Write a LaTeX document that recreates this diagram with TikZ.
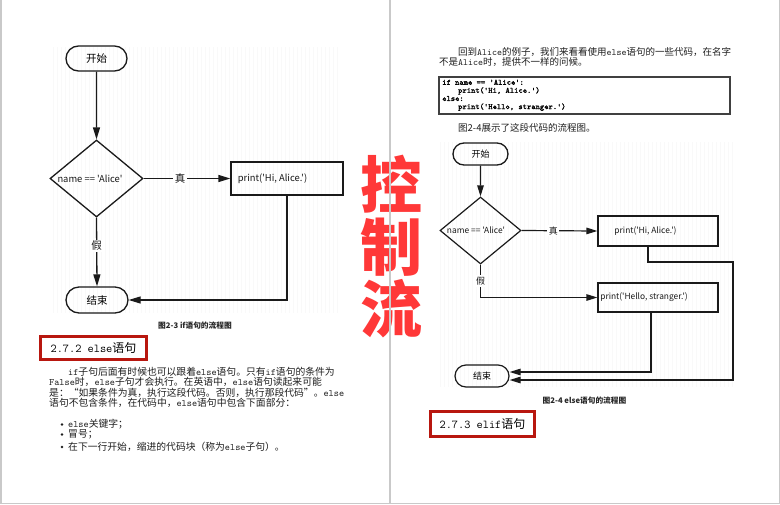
\documentclass[tikz,border=0pt]{standalone}
\usepackage{fontspec}
\setmainfont{Noto Sans CJK SC}
\newfontfamily\fcf{Noto Sans CJK SC}
\newfontfamily\codef[FakeBold=1.5]{Latin Modern Mono}
\usetikzlibrary{shapes.geometric,shapes.misc,arrows.meta,calc}
\definecolor{ink}{HTML}{1A1A1A}
\definecolor{bodyink}{HTML}{1E1E1E}
\definecolor{hred}{HTML}{B8170F}
\definecolor{bigred}{HTML}{FF3838}
\definecolor{pagegray}{HTML}{C9C9C9}
\newcommand\lw[1]{{\ttfamily #1}}
\newcommand\fsz[1]{\fontsize{#1}{#1}\selectfont}
\tikzset{
  term/.style={draw=ink, rounded rectangle, line width=1.3pt, inner sep=0pt},
  dia/.style={draw=ink, diamond, line width=1.3pt, inner sep=0pt},
  procbox/.style={draw=ink, rectangle, line width=1.3pt, inner sep=0pt},
  conn/.style={draw=ink, line width=1.3pt},
  larrow/.style={-{Triangle[length=12pt,width=7pt]}},
  rarrow/.style={-{Triangle[length=11pt,width=6.5pt]}},
  lab/.style={fill=white, inner sep=1.5pt, text=ink},
  txt/.style={inner sep=0pt, anchor=west, text=bodyink},
  heading/.style={draw=hred, line width=3.3pt, fill=white, inner sep=0pt, text=black},
  caption/.style={inner sep=0pt, text=black!85, font=\fsz{7.7}\bfseries},
  bul/.style={circle, fill=bodyink, inner sep=0pt, minimum size=2.8pt}
}
\begin{document}
\begin{tikzpicture}[x=1pt,y=-1pt]
\useasboundingbox (0,0) rectangle (780,504);
\fill[white] (0,0) rectangle (780,504);
% faint chart backgrounds
\foreach \x in {53,57,...,340} \draw[black!2.5, line width=0.5pt] (\x,47) -- (\x,313);
\foreach \x in {440,444,...,732} \draw[black!2.5, line width=0.5pt] (\x,142) -- (\x,387);

% ---------- left page flowchart ----------
\node[term, minimum width=61pt, minimum height=25pt, font=\fsz{10.5}] (s1) at (96.5,58.5) {开始};
\node[dia, minimum width=93pt, minimum height=77pt] (d1) at (96.5,178.5) {};
\node[inner sep=0pt, font=\fcf\fsz{9.4}, text=ink] (d1t) at (90,178.5) {name == 'Alice'};
\node[procbox, minimum width=112pt, minimum height=33pt] (b1) at (287,178.5) {};
\node[inner sep=0pt, font=\fcf\fsz{9.4}, text=ink] (b1t) at (272.5,178.5) {print('Hi, Alice.')};
\node[term, minimum width=62pt, minimum height=26pt, font=\fsz{10.5}] (e1) at (97,300) {结束};
\draw[conn, larrow] (s1) -- (d1);
\draw[conn, larrow] (d1.east) -- node[lab, pos=0.42, font=\fsz{10.5}] (t1) {真} (b1.west);
\draw[conn, larrow] (d1.south) -- node[lab, pos=0.41, font=\fsz{10.5}] (f1) {假} (e1.north);
\draw[conn, larrow] (b1.south) |- (e1.east);
\node[caption] (c1) at (195,326) {图2-3 if语句的流程图};

% ---------- left page text ----------
\node[heading, minimum width=106pt, minimum height=23pt, font=\fsz{12}] (h1) at (93.5,348) {\lw{2.7.2 else}语句};
\begin{scope}[font=\fsz{9.8}]
\node[txt] (p1) at (68,372) {\lw{if}子句后面有时候也可以跟着\lw{else}语句。只有\lw{if}语句的条件为};
\node[txt] (p2) at (49,382) {\lw{False}时，\lw{else}子句才会执行。在英语中，\lw{else}语句读起来可能};
\node[txt] (p3) at (49,392.5) {是：“如果条件为真，执行这段代码。否则，执行那段代码”。\lw{else}};
\node[txt] (p4) at (49,403) {语句不包含条件，在代码中，\lw{else}语句中包含下面部分：};
\node[bul] (u1) at (62,424.5) {};
\node[bul] (u2) at (62,434.5) {};
\node[bul] (u3) at (62,447) {};
\node[txt] (q1) at (68,424) {\lw{else}关键字；};
\node[txt] (q2) at (68,434) {冒号；};
\node[txt] (q3) at (68,446.5) {在下一行开始，缩进的代码块（称为\lw{else}子句）。};
\end{scope}

% ---------- right page text ----------
\begin{scope}[font=\fsz{9.5}]
\node[txt] (r1) at (458,52) {回到\lw{Alice}的例子，我们来看看使用\lw{else}语句的一些代码，在名字};
\node[txt] (r2) at (439,62) {不是\lw{Alice}时，提供不一样的问候。};
\node[txt] (r3) at (458,128) {图2-4展示了这段代码的流程图。};
\end{scope}
\node[draw=black!75, line width=1.3pt, minimum width=291pt, minimum height=37pt, inner sep=0pt] (cb) at (584.5,95.5) {};
\node[inner sep=0pt, anchor=north west, align=left, font=\codef\fsz{8.1}, text=black] (code) at (442,79.5)
  {\baselineskip=8pt if name == 'Alice':\\ \hspace*{16pt}print('Hi, Alice.')\\ else:\\ \hspace*{16pt}print('Hello, stranger.')};

% ---------- right page flowchart ----------
\node[term, minimum width=55pt, minimum height=22pt, font=\fsz{9}] (s2) at (480.5,154) {开始};
\node[dia, minimum width=81pt, minimum height=67pt, line width=1.2pt] (d2) at (480.5,230.5) {};
\node[inner sep=0pt, font=\fcf\fsz{8.4}, text=ink] (d2t) at (476,230.5) {name == 'Alice'};
\node[procbox, minimum width=120pt, minimum height=30pt, line width=1.2pt] (b2) at (658,231) {};
\node[inner sep=0pt, font=\fcf\fsz{8.4}, text=ink] (b2t) at (645.5,231) {print('Hi, Alice.')};
\node[procbox, minimum width=120pt, minimum height=29pt, line width=1.2pt] (b3) at (658,297.5) {};
\node[inner sep=0pt, font=\fcf\fsz{8.4}, text=ink] (b3t) at (644,297.5) {print('Hello, stranger.')};
\node[term, minimum width=54pt, minimum height=22pt, font=\fsz{9}, line width=1.2pt] (e2) at (482,376) {结束};
\coordinate (k1) at (733,262);
\coordinate (k2) at (480.5,297.5);
\draw[conn, line width=1.2pt, rarrow] (s2) -- (d2);
\draw[conn, line width=1.2pt, rarrow] (d2.east) -- node[lab, pos=0.42, font=\fsz{9}] (t2) {真} (b2.west);
\draw[conn, line width=1.2pt, rarrow] (d2.south) -- node[lab, pos=0.5, font=\fsz{9}] (f2) {假} (k2) -- (b3.west);
\draw[conn, line width=1.2pt, rarrow] ($(b2.south)+(-10,0)$) |- (k1) |- ($(e2.east)+(0,4)$);
\draw[conn, line width=1.2pt, rarrow] ($(b3.south)+(-7,0)$) |- ($(e2.east)+(0,-4)$);
\node[caption] (c2) at (584.5,401) {图2-4 else语句的流程图};
\node[heading, minimum width=104pt, minimum height=25pt, font=\fsz{12}] (h2) at (482.5,424) {\lw{2.7.3 elif}语句};

% ---------- centre title ----------
\node[inner sep=0pt, align=center, text=bigred, font=\fsz{62}\bfseries] (title) at (391.5,247)
  {\baselineskip=62pt 控\\制\\流};

% ---------- page frame ----------
\draw[pagegray, line width=1.5pt] (0.75,0) -- (0.75,503.25) -- (779.25,503.25) -- (779.25,0);
\draw[pagegray, line width=1.5pt] (389.8,0) -- (389.8,503.25);
\end{tikzpicture}
\end{document}
